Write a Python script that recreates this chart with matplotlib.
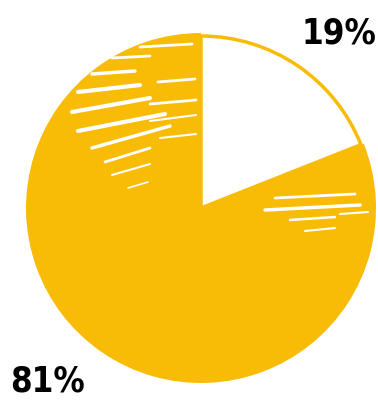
import matplotlib
matplotlib.use("Agg")
import matplotlib.pyplot as plt
from matplotlib.patches import Wedge

# Share of answers
labels = ["19%", "81%"]
shares = [19, 81]
colors = ["#FFFFFF", "#F9BC06"]

W, H = 378, 401
YELLOW = "#F9BC06"

# pie geometry, in pixels (y measured from the top)
cx, cy, r = 201, 208, 175

# white brush streaks over the yellow, (x0, y0, x1, y1, width) in pixels
streaks = [
    (140, 47, 192, 44, 2.0),
    (112, 58, 150, 56, 2.0),
    (92, 74, 135, 71, 2.5),
    (158, 82, 195, 79, 2.0),
    (78, 92, 140, 85, 3.0),
    (72, 112, 150, 98, 3.0),
    (150, 104, 196, 100, 2.0),
    (78, 131, 165, 114, 3.0),
    (150, 121, 196, 115, 1.5),
    (92, 148, 170, 126, 2.5),
    (160, 138, 196, 134, 1.5),
    (105, 162, 150, 148, 2.0),
    (112, 175, 150, 164, 1.5),
    (128, 188, 148, 182, 1.2),
    (275, 198, 355, 194, 2.0),
    (265, 210, 360, 205, 2.5),
    (290, 220, 335, 217, 1.8),
    (305, 231, 335, 228, 1.5),
    (340, 214, 368, 212, 1.5),
]

fig = plt.figure(figsize=(W / 100, H / 100), dpi=100)
ax = fig.add_axes([0, 0, 1, 1])

wedges, _ = ax.pie(
    shares, colors=colors, startangle=90, counterclock=False,
    center=(cx, H - cy), radius=r, frame=True,
    wedgeprops=dict(linewidth=0),
)
ax.set_xlim(0, W)
ax.set_ylim(0, H)
ax.set_aspect("equal")
ax.axis("off")

# rough yellow outline around the white slice
w = wedges[0]
ax.add_patch(Wedge((cx, H - cy), r - 3, w.theta1, w.theta2,
                   facecolor="none", edgecolor=YELLOW, linewidth=2.5,
                   joinstyle="round"))

for x0, y0, x1, y1, lw in streaks:
    ax.plot([x0, x1], [H - y0, H - y1], color="white", lw=lw,
            solid_capstyle="round")

font = dict(family="DejaVu Sans", stretch="condensed",
            weight="bold", color="black")
ax.text(339, H - 33, labels[0], ha="center", va="center", fontsize=25, **font)
ax.text(47, H - 381, labels[1], ha="center", va="center", fontsize=25, **font)

fig.savefig("out.png", dpi=100)
